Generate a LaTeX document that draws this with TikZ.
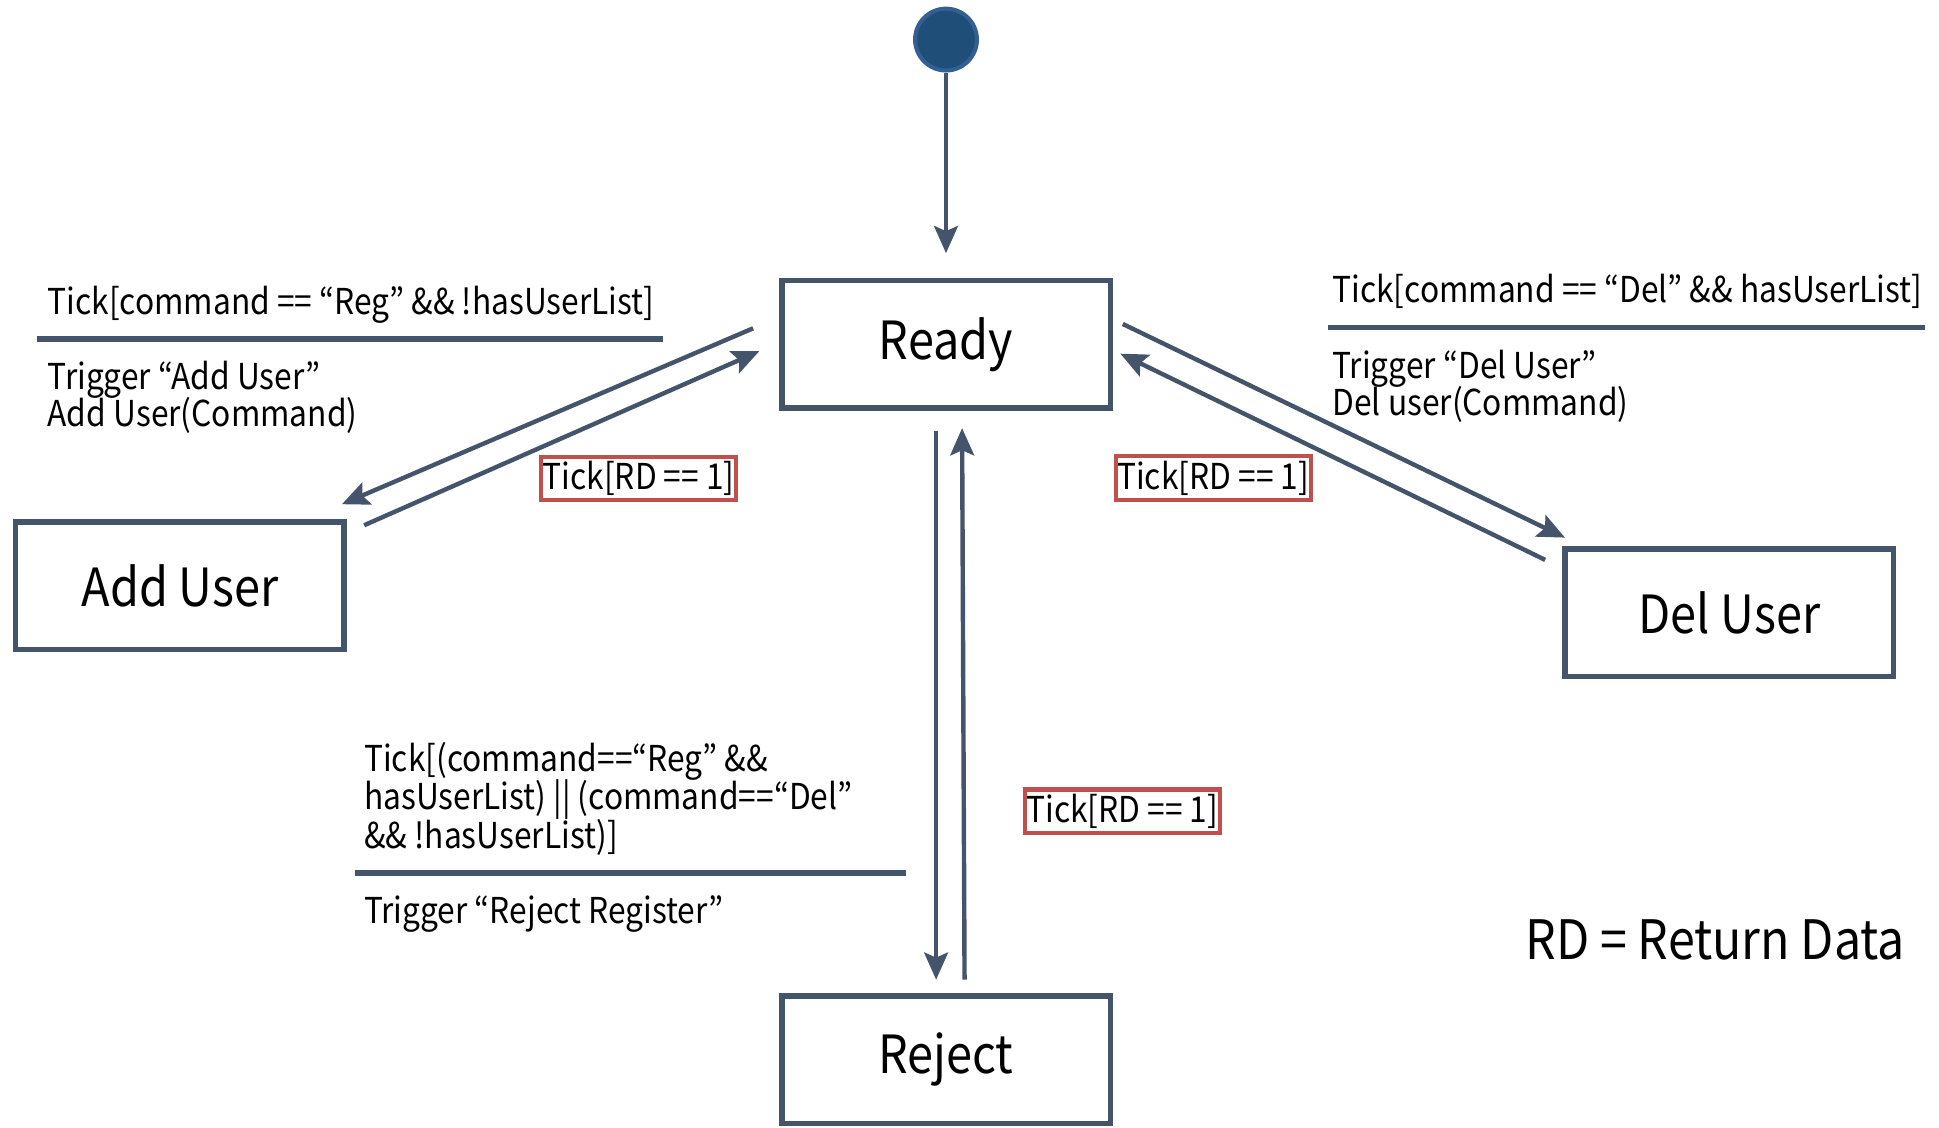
\documentclass[tikz,border=0pt]{standalone}
\usepackage{fontspec}
\setmainfont{Noto Sans CJK KR}[FakeStretch=0.89]
\usetikzlibrary{arrows.meta,calc}

\definecolor{ardesia}{HTML}{44546A}
\definecolor{rosso}{HTML}{C0504D}
\definecolor{blu}{HTML}{1F4E79}
\definecolor{blubordo}{HTML}{335F91}

\tikzset{
  stato/.style={draw=ardesia, line width=1.6pt, fill=white, minimum width=3.40cm,
    minimum height=1.32cm, inner sep=0pt, font=\fontsize{15.5}{18}\selectfont},
  freccia/.style={ardesia, line width=1.3pt, -{Stealth[length=8pt,width=7pt,inset=1.5pt]}},
  guardia/.style={draw=rosso, line width=1.2pt, fill=white, minimum width=2.02cm,
    minimum height=0.45cm, inner sep=0pt, font=\fontsize{10.5}{12}\selectfont},
  testo/.style={anchor=base west, inner sep=0pt, font=\fontsize{10.5}{12}\selectfont},
  barra/.style={ardesia, line width=1.6pt}
}

\begin{document}
\begin{tikzpicture}[x=0.0128cm, y=-0.0128cm]
        \useasboundingbox (0,0) rectangle (1568,911.4);

        % Stato iniziale
        \node[circle, fill=blu, draw=blubordo, line width=1.2pt, minimum size=0.64cm, inner sep=0pt] (init) at (765,32) {};

        % Stati
        \node[stato] (ready) at (765,278.5) {Ready};
        \node[stato] (adduser) at (145.5,473.5) {Add User};
        \node[stato] (deluser) at (1398.5,495.5) {Del User};
        \node[stato] (reject) at (765,857) {Reject};

        % Transizioni
        \draw[freccia] (init) -- ($(ready.north)+(0,-20)$);
        \draw[freccia] ($(ready.west)+(-21,-13)$) -- ($(adduser.north east)+(-4,-12)$);
        \draw[freccia] ($(adduser.north east)+(14,5)$) -- ($(ready.west)+(-16,5.5)$);
        \draw[freccia] ($(ready.east)+(8,-16.5)$) -- ($(deluser.north west)+(2,-7)$);
        \draw[freccia] ($(deluser.north west)+(-14,11)$) -- ($(ready.east)+(6,7.5)$);
        \draw[freccia] ($(ready.south)+(-8,16)$) -- ($(reject.north)+(-8,-11)$);
        \draw[freccia] ($(reject.north)+(15,-11)$) -- ($(ready.south)+(13,14)$);

        % Condizioni Add User
        \node[testo] (regcond) at (38,254) {Tick[command == “Reg” \&\& !hasUserList]};
        \draw[barra] (30,274) -- (536,274);
        \node[testo] (regtrig) at (38,315) {Trigger “Add User”};
        \node[testo] (regact) at (38,345) {Add User(Command)};
        \node[guardia] (regback) at (516.5,387) {Tick[RD == 1]};

        % Condizioni Del User
        \node[testo] (delcond) at (1077,245) {Tick[command == “Del” \&\& hasUserList]};
        \draw[barra] (1074,265) -- (1557,265);
        \node[testo] (deltrig) at (1077,306) {Trigger “Del User”};
        \node[testo] (delact) at (1077,336) {Del user(Command)};
        \node[guardia] (delback) at (981,386.5) {Tick[RD == 1]};

        % Condizioni Reject
        \node[testo] (rejcond1) at (294,624) {Tick[(command==“Reg” \&\&};
        \node[testo] (rejcond2) at (294,655) {hasUserList) || (command==“Del”};
        \node[testo] (rejcond3) at (294,686) {\&\& !hasUserList)]};
        \draw[barra] (287,706) -- (733,706);
        \node[testo] (rejtrig) at (294,747) {Trigger “Reject Register”};
        \node[guardia] (rejback) at (907.5,656) {Tick[RD == 1]};

        % Legenda
        \node[testo, font=\fontsize{16}{19}\selectfont] (legenda) at (1233,776) {RD = Return Data};

\end{tikzpicture}
\end{document}
